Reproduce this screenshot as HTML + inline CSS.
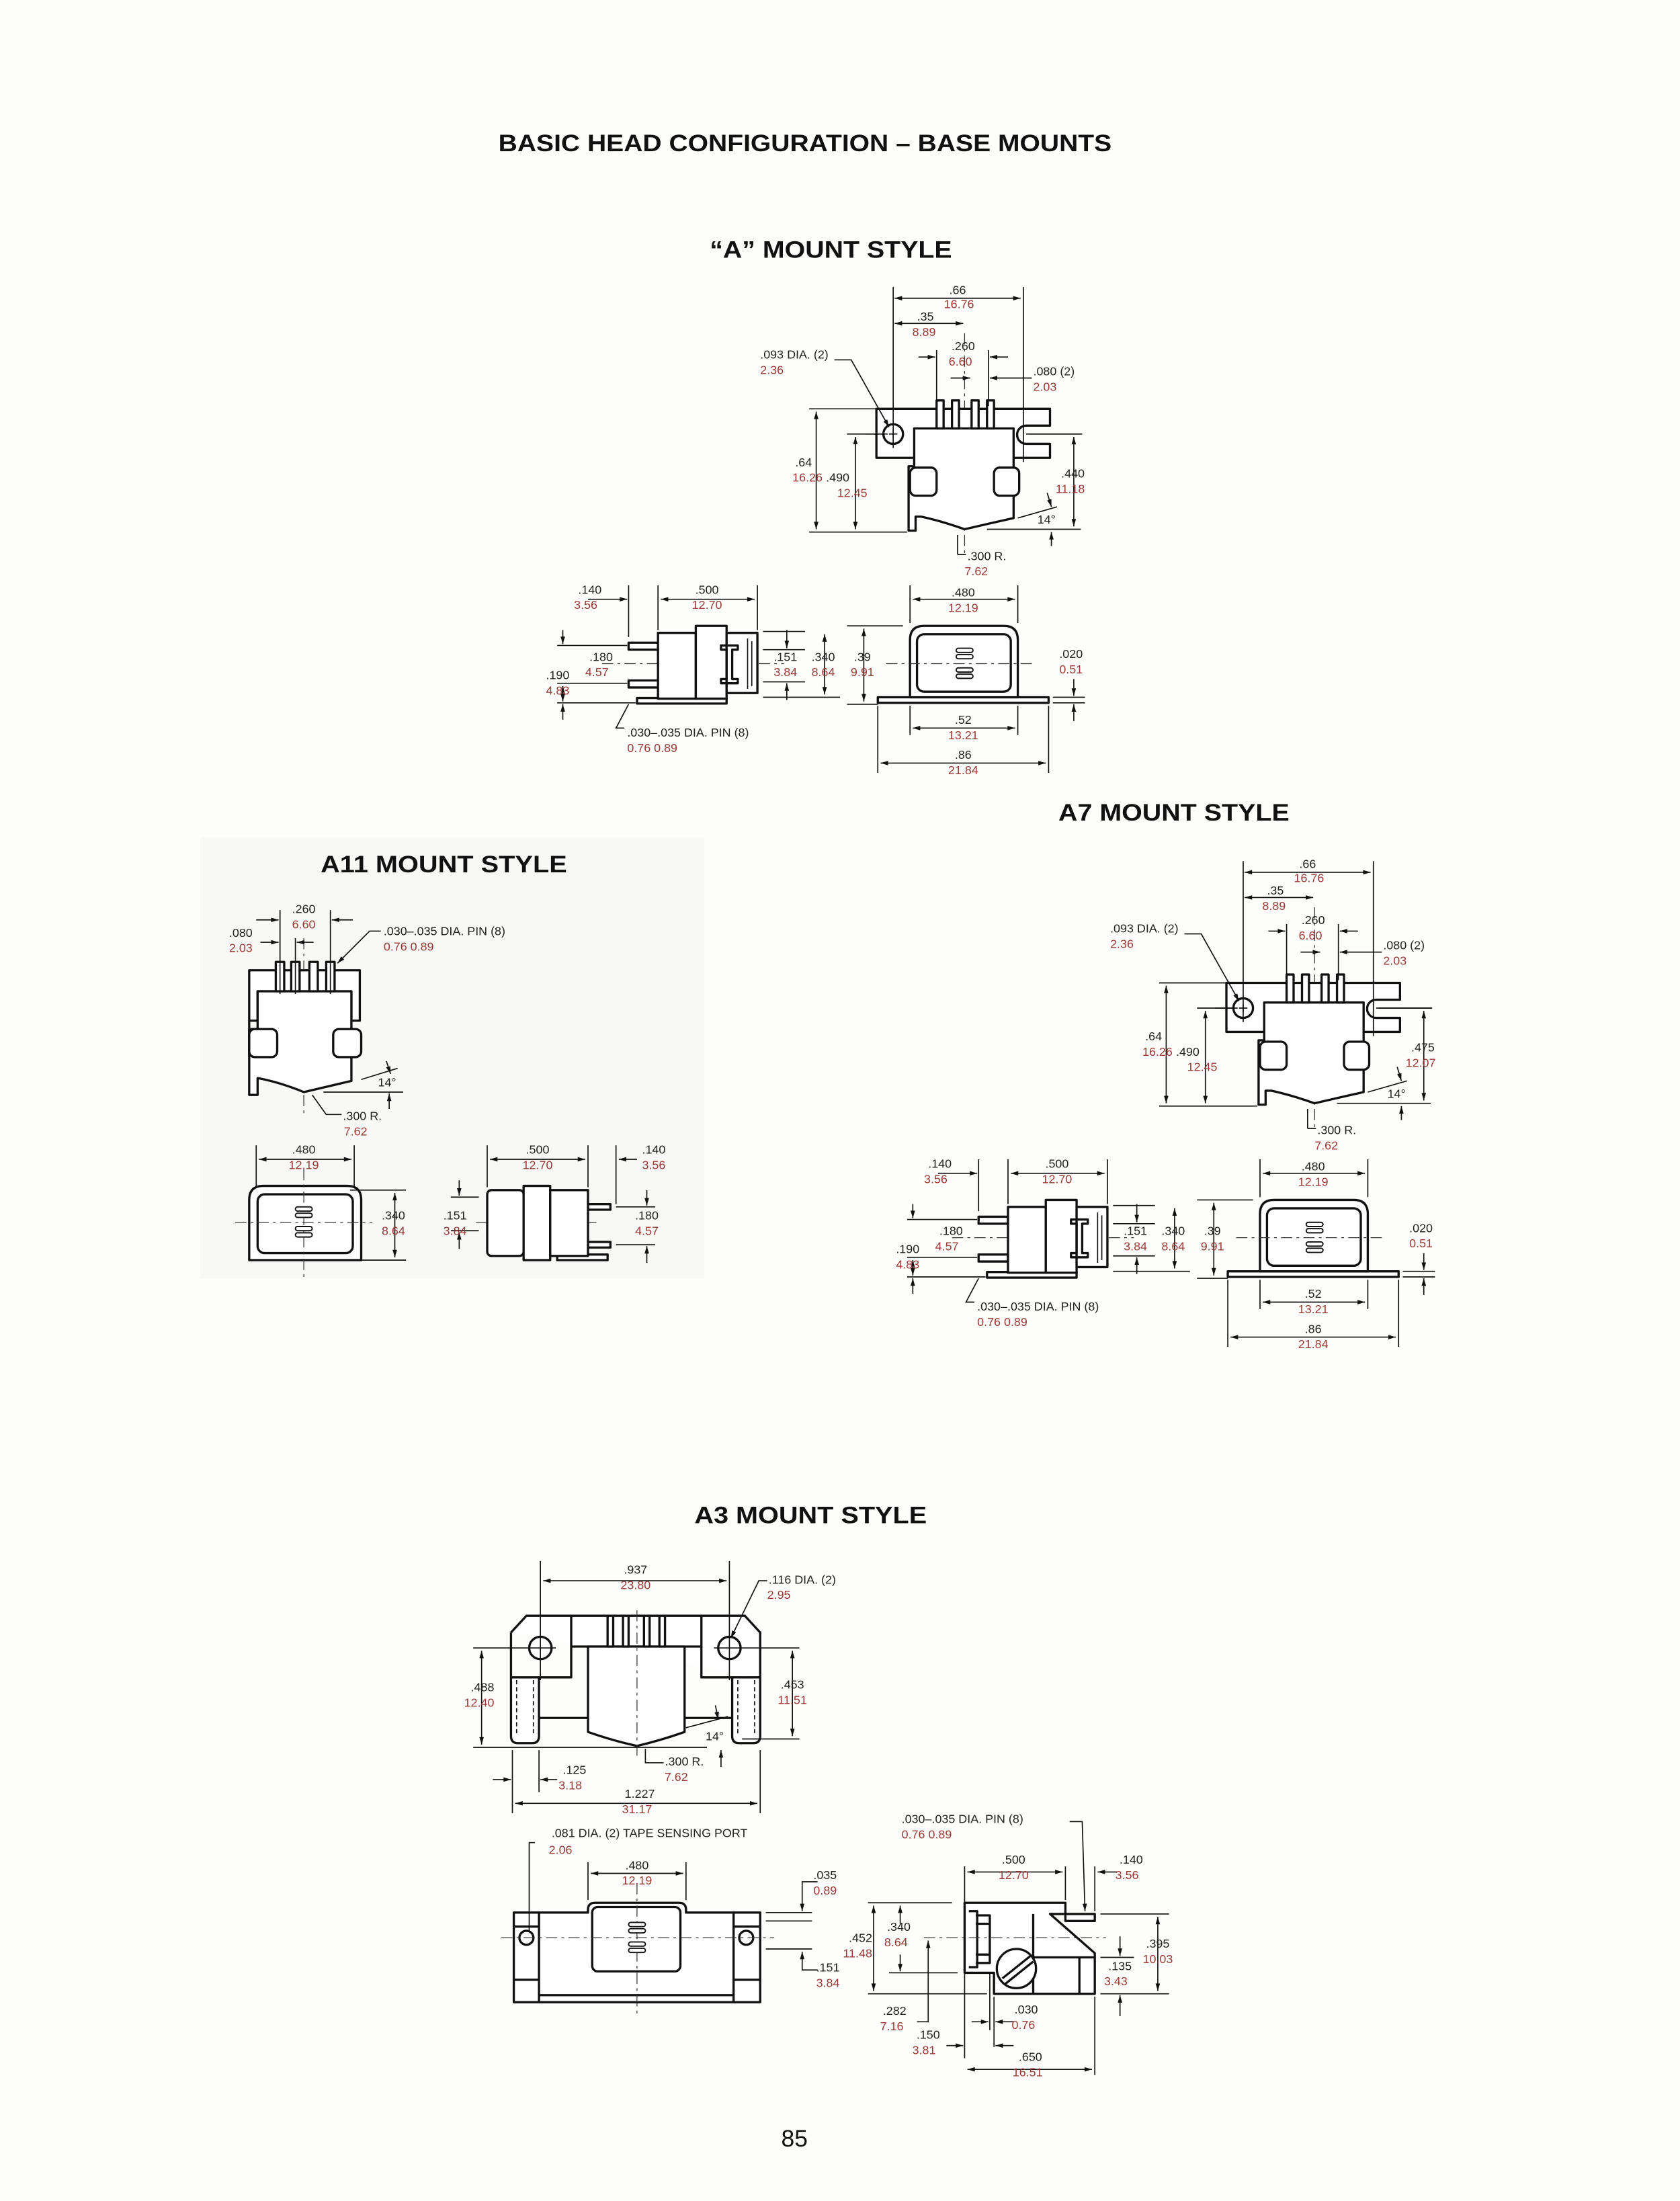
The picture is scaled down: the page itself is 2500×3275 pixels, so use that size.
<!DOCTYPE html>
<html><head><meta charset="utf-8"><style>
html,body{margin:0;padding:0;background:#fdfdfb;}
svg{display:block;}
text{font-family:"Liberation Sans",sans-serif;}
.d{font-size:8.6px;fill:#222;}
.r{font-size:8.6px;fill:#9b3a34;}
.t{font-weight:600;fill:#111;}
.o{fill:none;stroke:#111;stroke-width:1.6;stroke-linejoin:round;}
.f{fill:#fff;stroke:#111;stroke-width:1.6;stroke-linejoin:round;}
.l{stroke:#111;stroke-width:0.8;fill:none;}
.c{stroke:#333;stroke-width:0.6;stroke-dasharray:8 3 2 3;fill:none;}
</style></head><body>
<svg width="2500" height="3275" viewBox="0 0 1200 1572" xmlns="http://www.w3.org/2000/svg">
<defs>
<marker id="e" viewBox="0 0 10 6" refX="10" refY="3" markerWidth="7" markerHeight="4" orient="auto"><path d="M0,0L10,3L0,6z" fill="#111"/></marker>
<marker id="s" viewBox="0 0 10 6" refX="0" refY="3" markerWidth="7" markerHeight="4" orient="auto"><path d="M10,0L0,3L10,6z" fill="#111"/></marker>
</defs>
<rect x="0" y="0" width="1200" height="1572" fill="#fdfdfb"/>
<rect x="143" y="598" width="360" height="315" fill="#f8f8f6"/>

<text class="t" x="356" y="108" font-size="17" textLength="438" lengthAdjust="spacingAndGlyphs">BASIC HEAD CONFIGURATION – BASE MOUNTS</text>
<text class="t" x="507" y="184" font-size="17" textLength="173" lengthAdjust="spacingAndGlyphs">“A” MOUNT STYLE</text>
<text class="t" x="756" y="586" font-size="17" textLength="165" lengthAdjust="spacingAndGlyphs">A7 MOUNT STYLE</text>
<text class="t" x="229" y="623" font-size="17" textLength="176" lengthAdjust="spacingAndGlyphs">A11 MOUNT STYLE</text>
<text class="t" x="496" y="1088" font-size="17" textLength="166" lengthAdjust="spacingAndGlyphs">A3 MOUNT STYLE</text>
<text x="558" y="1533" font-size="17" fill="#111">85</text>

<g id="amount">
<line class="c" x1="689" y1="238" x2="689" y2="398"/>
<path class="f" d="M653,327 H626 V292 H750 V304 H733 A6.5,6.5 0 0 0 733,317 H750 V327 H724"/>
<path class="f" d="M653,306 H724 V370 Q706,374 689,378 Q672,372 658,369 H654 V379 H649 V333 H653 Z"/>
<rect class="f" x="650" y="334" width="19" height="20" rx="4"/>
<rect class="f" x="710" y="334" width="18" height="20" rx="4"/>
<rect class="f" x="669" y="286" width="5" height="20"/>
<rect class="f" x="680" y="286" width="5" height="20"/>
<rect class="f" x="694" y="286" width="5" height="20"/>
<rect class="f" x="705" y="286" width="5" height="20"/>
<circle class="f" cx="638" cy="310" r="7"/>
<path class="l" d="M635,310h6M638,307v6M618,310h16M733,310h40"/>
<path class="l" d="M638,205V320M731,205V330M669,250V290M706,250V290"/>
<line class="l" x1="639" y1="213" x2="729" y2="213" marker-start="url(#s)" marker-end="url(#e)"/>
<line class="l" x1="639" y1="231" x2="688" y2="231" marker-start="url(#s)" marker-end="url(#e)"/>
<line class="l" x1="656" y1="255" x2="668" y2="255" marker-end="url(#e)"/>
<line class="l" x1="720" y1="255" x2="707" y2="255" marker-end="url(#e)"/>
<line class="l" x1="679" y1="270" x2="693" y2="270" marker-end="url(#e)"/>
<line class="l" x1="737" y1="270" x2="707" y2="270" marker-end="url(#e)"/>
<path class="l" d="M596,257H608L635,305" marker-end="url(#e)"/>
<path class="l" d="M578,292H626M578,380H648M605,310H631"/>
<line class="l" x1="583" y1="294" x2="583" y2="378" marker-start="url(#s)" marker-end="url(#e)"/>
<line class="l" x1="611" y1="312" x2="611" y2="378" marker-start="url(#s)" marker-end="url(#e)"/>
<path class="l" d="M735,310H772M705,378H772"/>
<line class="l" x1="767" y1="312" x2="767" y2="376" marker-start="url(#s)" marker-end="url(#e)"/>
<path class="l" d="M727,370L755,362"/>
<line class="l" x1="748" y1="352" x2="751" y2="362" marker-end="url(#e)"/>
<line class="l" x1="751" y1="390" x2="751" y2="380" marker-end="url(#e)"/>
<path class="l" d="M684,396V382M684,396H690"/>
<text class="d" x="684" y="210" text-anchor="middle">.66</text><text class="r" x="685" y="220" text-anchor="middle">16.76</text>
<text class="d" x="661" y="229" text-anchor="middle">.35</text><text class="r" x="660" y="240" text-anchor="middle">8.89</text>
<text class="d" x="688" y="250" text-anchor="middle">.260</text><text class="r" x="686" y="261" text-anchor="middle">6.60</text>
<text class="d" x="738" y="268">.080 (2)</text><text class="r" x="738" y="279">2.03</text>
<text class="d" x="543" y="256">.093 DIA. (2)</text><text class="r" x="543" y="267">2.36</text>
<text class="d" x="568" y="333">.64</text><text class="r" x="566" y="344">16.26</text>
<text class="d" x="590" y="344">.490</text><text class="r" x="598" y="355">12.45</text>
<text class="d" x="741" y="374">14°</text>
<text class="d" x="691" y="400">.300 R.</text><text class="r" x="689" y="411">7.62</text>
<line class="c" x1="430" y1="474" x2="560" y2="474"/>
<rect class="f" x="449" y="459" width="21" height="5"/>
<rect class="f" x="449" y="486" width="21" height="5"/>
<rect class="f" x="455" y="498.5" width="64" height="4"/>
<rect class="f" x="470" y="452" width="27" height="47"/>
<rect class="f" x="497" y="447" width="22" height="52"/>
<rect class="f" x="519" y="452" width="22" height="43"/>
<path class="o" d="M515,461h12v3h-4v21h4v3h-12v-3h4v-21h-4z" stroke-width="1"/>
<path class="l" d="M534,456v36M537,458v32"/>
<path class="l" d="M449,418V455M470,418V450M541,418V450"/>
<line class="l" x1="420" y1="428" x2="448" y2="428" marker-end="url(#e)"/>
<line class="l" x1="472" y1="428" x2="539" y2="428" marker-start="url(#s)" marker-end="url(#e)"/>
<path class="l" d="M398,461H448M398,488H448M398,502H454"/>
<line class="l" x1="402" y1="450" x2="402" y2="460" marker-end="url(#e)"/>
<line class="l" x1="402" y1="490" x2="402" y2="501" marker-start="url(#s)" marker-end="url(#e)"/>
<line class="l" x1="402" y1="514" x2="402" y2="503" marker-end="url(#e)"/>
<path class="l" d="M545,451H575M545,464H575M545,487H575M545,498H600M605,447H645M605,503H627"/>
<line class="l" x1="562" y1="450" x2="562" y2="463" marker-end="url(#e)"/>
<line class="l" x1="562" y1="500" x2="562" y2="488" marker-end="url(#e)"/>
<line class="l" x1="589" y1="453" x2="589" y2="496" marker-start="url(#s)" marker-end="url(#e)"/>
<line class="l" x1="617" y1="449" x2="617" y2="501" marker-start="url(#s)" marker-end="url(#e)"/>
<path class="l" d="M446,520H440L449,503"/>
<text class="d" x="413" y="424">.140</text><text class="r" x="410" y="435">3.56</text>
<text class="d" x="505" y="424" text-anchor="middle">.500</text><text class="r" x="505" y="435" text-anchor="middle">12.70</text>
<text class="d" x="421" y="472">.180</text><text class="r" x="418" y="483">4.57</text>
<text class="d" x="390" y="485">.190</text><text class="r" x="390" y="496">4.83</text>
<text class="d" x="561" y="472" text-anchor="middle">.151</text><text class="r" x="561" y="483" text-anchor="middle">3.84</text>
<text class="d" x="588" y="472" text-anchor="middle">.340</text><text class="r" x="588" y="483" text-anchor="middle">8.64</text>
<text class="d" x="616" y="472" text-anchor="middle">.39</text><text class="r" x="616" y="483" text-anchor="middle">9.91</text>
<text class="d" x="448" y="526">.030–.035 DIA. PIN (8)</text><text class="r" x="448" y="537">0.76  0.89</text>
<rect class="f" x="627" y="498" width="122" height="4"/>
<path class="f" d="M650,498 V457 Q650,447 660,447 H717 Q727,447 727,457 V498 Z"/>
<rect class="o" x="655" y="453" width="67" height="41" rx="5" stroke-width="1.1"/>
<line class="c" x1="633" y1="474" x2="737" y2="474"/>
<g fill="#fff" stroke="#111" stroke-width="0.9"><rect x="683" y="463" width="12" height="3" rx="1.5"/><rect x="683" y="467.5" width="12" height="3" rx="1.5"/><rect x="683" y="477" width="12" height="3" rx="1.5"/><rect x="683" y="481.5" width="12" height="3" rx="1.5"/></g>
<path class="l" d="M650,418V445M727,418V445M650,504V525M727,504V525M627,504V552M749,504V552M752,498H775M752,502H775"/>
<line class="l" x1="652" y1="428" x2="725" y2="428" marker-start="url(#s)" marker-end="url(#e)"/>
<line class="l" x1="652" y1="520" x2="725" y2="520" marker-start="url(#s)" marker-end="url(#e)"/>
<line class="l" x1="629" y1="545" x2="747" y2="545" marker-start="url(#s)" marker-end="url(#e)"/>
<line class="l" x1="767" y1="485" x2="767" y2="497" marker-end="url(#e)"/>
<line class="l" x1="767" y1="515" x2="767" y2="503" marker-end="url(#e)"/>
<text class="d" x="688" y="426" text-anchor="middle">.480</text><text class="r" x="688" y="437" text-anchor="middle">12.19</text>
<text class="d" x="765" y="470" text-anchor="middle">.020</text><text class="r" x="765" y="481" text-anchor="middle">0.51</text>
<text class="d" x="688" y="517" text-anchor="middle">.52</text><text class="r" x="688" y="528" text-anchor="middle">13.21</text>
<text class="d" x="688" y="542" text-anchor="middle">.86</text><text class="r" x="688" y="553" text-anchor="middle">21.84</text>
</g>
<text class="d" x="758" y="341">.440</text><text class="r" x="754" y="352">11.18</text>
<use href="#amount" transform="translate(250,410)"/>
<text class="d" x="1008" y="751">.475</text><text class="r" x="1004" y="762">12.07</text>

<line class="c" x1="217" y1="670" x2="217" y2="798"/>
<path class="f" d="M178,755 V693 H257 V729 H251 V708 H184 V729 H178"/>
<path class="f" d="M184,708 H251 V772 Q234,776 217,780 Q200,773 184,770 V782 H178 V735 H184 Z"/>
<rect class="f" x="178" y="735" width="20" height="20" rx="4"/>
<rect class="f" x="238" y="735" width="20" height="20" rx="4"/>
<rect class="f" x="197" y="687" width="6" height="21"/>
<rect class="f" x="208" y="687" width="6" height="21"/>
<rect class="f" x="221" y="687" width="6" height="21"/>
<rect class="f" x="233" y="687" width="6" height="21"/>
<path class="l" d="M200,650V710M211,670V710M236,650V710"/>
<line class="l" x1="183" y1="657" x2="199" y2="657" marker-end="url(#e)"/>
<line class="l" x1="252" y1="657" x2="237" y2="657" marker-end="url(#e)"/>
<line class="l" x1="186" y1="673" x2="199" y2="673" marker-end="url(#e)"/>
<line class="l" x1="224" y1="673" x2="212" y2="673" marker-end="url(#e)"/>
<path class="l" d="M272,665H264L241,688" marker-end="url(#e)"/>
<path class="l" d="M258,771L284,763M231,780H288"/>
<line class="l" x1="276" y1="758" x2="279" y2="767" marker-end="url(#e)"/>
<line class="l" x1="278" y1="792" x2="278" y2="781" marker-end="url(#e)"/>
<path class="l" d="M223,782L233,796H244"/>
<text class="d" x="217" y="652" text-anchor="middle">.260</text><text class="r" x="217" y="663" text-anchor="middle">6.60</text>
<text class="d" x="172" y="669" text-anchor="middle">.080</text><text class="r" x="172" y="680" text-anchor="middle">2.03</text>
<text class="d" x="274" y="668">.030–.035 DIA. PIN (8)</text><text class="r" x="274" y="679">0.76  0.89</text>
<text class="d" x="270" y="776">14°</text>
<text class="d" x="245" y="800">.300 R.</text><text class="r" x="254" y="811" text-anchor="middle">7.62</text>
<path class="f" d="M178,900 V857 Q178,847 188,847 H248 Q258,847 258,857 V900 Z"/>
<rect class="o" x="184" y="853" width="68" height="42" rx="5" stroke-width="1.1"/>
<line class="c" x1="168" y1="873" x2="266" y2="873"/>
<line class="c" x1="217" y1="835" x2="217" y2="912"/>
<g fill="#fff" stroke="#111" stroke-width="0.9"><rect x="211" y="862" width="12" height="3" rx="1.5"/><rect x="211" y="866.5" width="12" height="3" rx="1.5"/><rect x="211" y="876" width="12" height="3" rx="1.5"/><rect x="211" y="880.5" width="12" height="3" rx="1.5"/></g>
<path class="l" d="M183,818V848M253,818V848M250,850H290M250,900H290"/>
<line class="l" x1="185" y1="828" x2="251" y2="828" marker-start="url(#s)" marker-end="url(#e)"/>
<line class="l" x1="282" y1="852" x2="282" y2="898" marker-start="url(#s)" marker-end="url(#e)"/>
<text class="d" x="217" y="824" text-anchor="middle">.480</text><text class="r" x="217" y="835" text-anchor="middle">12.19</text>
<text class="d" x="281" y="871" text-anchor="middle">.340</text><text class="r" x="281" y="882" text-anchor="middle">8.64</text>
<line class="c" x1="340" y1="873" x2="426" y2="873"/>
<rect class="f" x="398" y="896" width="36" height="4"/>
<rect class="f" x="420" y="860" width="16" height="4"/>
<rect class="f" x="420" y="887" width="16" height="4"/>
<rect class="f" x="348" y="850" width="26" height="47" rx="3"/>
<rect class="f" x="374" y="847" width="19" height="53"/>
<rect class="f" x="393" y="850" width="27" height="47"/>
<path class="l" d="M348,818V848M420,818V848M440,818V860M322,855H342M322,879H342M440,862H468M440,889H468"/>
<line class="l" x1="350" y1="828" x2="418" y2="828" marker-start="url(#s)" marker-end="url(#e)"/>
<line class="l" x1="455" y1="828" x2="442" y2="828" marker-end="url(#e)"/>
<line class="l" x1="328" y1="843" x2="328" y2="854" marker-end="url(#e)"/>
<line class="l" x1="328" y1="892" x2="328" y2="880" marker-end="url(#e)"/>
<line class="l" x1="462" y1="850" x2="462" y2="861" marker-end="url(#e)"/>
<line class="l" x1="462" y1="902" x2="462" y2="890" marker-end="url(#e)"/>
<text class="d" x="384" y="824" text-anchor="middle">.500</text><text class="r" x="384" y="835" text-anchor="middle">12.70</text>
<text class="d" x="467" y="824" text-anchor="middle">.140</text><text class="r" x="467" y="835" text-anchor="middle">3.56</text>
<text class="d" x="325" y="871" text-anchor="middle">.151</text><text class="r" x="325" y="882" text-anchor="middle">3.84</text>
<text class="d" x="462" y="871" text-anchor="middle">.180</text><text class="r" x="462" y="882" text-anchor="middle">4.57</text>

<path class="f" d="M365,1166 L376,1154 H532 L543,1166 V1198 H523 V1240 Q523,1245 528,1245 H538 Q543,1245 543,1240 V1198 M365,1198 V1240 Q365,1245 370,1245 H380 Q385,1245 385,1240 V1198 H365 V1166"/>
<path class="o" d="M385,1198 H408 V1176 H420 M489,1176 H501 V1198 H523 M385,1227 H420 M489,1227 H523 M408,1154 V1176 M501,1154 V1176 M420,1176 H489"/>
<path class="f" d="M420,1176 H489 V1237 Q472,1243 455,1247 Q437,1243 420,1237 Z"/>
<path class="l" d="M369,1200v40M381,1200v40M527,1200v40M539,1200v40" stroke-dasharray="3 2"/>
<rect class="f" x="434" y="1154" width="4" height="22" stroke-width="1"/>
<rect class="f" x="445" y="1154" width="4" height="22" stroke-width="1"/>
<rect class="f" x="460" y="1154" width="4" height="22" stroke-width="1"/>
<rect class="f" x="471" y="1154" width="4" height="22" stroke-width="1"/>
<circle class="f" cx="386" cy="1177" r="8"/><circle class="f" cx="521" cy="1177" r="8"/>
<path class="l" d="M383,1177h6M386,1174v6M518,1177h6M521,1174v6M338,1177H397M510,1177H571M386,1115V1200M521,1115V1200M338,1248H505M530,1242H571M366,1250V1295M385,1250V1280M543,1250V1295"/>
<line class="c" x1="455" y1="1150" x2="455" y2="1255"/>
<line class="l" x1="388" y1="1129" x2="519" y2="1129" marker-start="url(#s)" marker-end="url(#e)"/>
<line class="l" x1="344" y1="1179" x2="344" y2="1246" marker-start="url(#s)" marker-end="url(#e)"/>
<line class="l" x1="566" y1="1179" x2="566" y2="1240" marker-start="url(#s)" marker-end="url(#e)"/>
<line class="l" x1="352" y1="1271" x2="365" y2="1271" marker-end="url(#e)"/>
<line class="l" x1="398" y1="1271" x2="386" y2="1271" marker-end="url(#e)"/>
<line class="l" x1="368" y1="1288" x2="541" y2="1288" marker-start="url(#s)" marker-end="url(#e)"/>
<path class="l" d="M548,1129H542L522,1170" marker-end="url(#e)"/>
<path class="l" d="M490,1234L520,1226"/>
<line class="l" x1="511" y1="1218" x2="513" y2="1228" marker-end="url(#e)"/>
<line class="l" x1="515" y1="1262" x2="515" y2="1250" marker-end="url(#e)"/>
<path class="l" d="M474,1259H461V1249"/>
<text class="d" x="454" y="1124" text-anchor="middle">.937</text><text class="r" x="454" y="1135" text-anchor="middle">23.80</text>
<text class="d" x="549" y="1131">.116 DIA. (2)</text><text class="r" x="548" y="1142">2.95</text>
<text class="d" x="353" y="1208" text-anchor="end">.488</text><text class="r" x="353" y="1219" text-anchor="end">12.40</text>
<text class="d" x="566" y="1206" text-anchor="middle">.453</text><text class="r" x="566" y="1217" text-anchor="middle">11.51</text>
<text class="d" x="504" y="1243">14°</text>
<text class="d" x="475" y="1261">.300 R.</text><text class="r" x="483" y="1272" text-anchor="middle">7.62</text>
<text class="d" x="402" y="1267">.125</text><text class="r" x="399" y="1278">3.18</text>
<text class="d" x="457" y="1284" text-anchor="middle">1.227</text><text class="r" x="455" y="1295" text-anchor="middle">31.17</text>

<path class="f" d="M367,1366 H420 V1364 Q420,1359 425,1359 H485 Q490,1359 490,1364 V1366 H543 V1430 H367 Z"/>
<path class="o" d="M385,1366V1430M524,1366V1430M367,1376H385M367,1414H385M524,1376H543M524,1414H543M385,1425H524" stroke-width="1"/>
<rect class="o" x="423" y="1362" width="63" height="46" rx="4" stroke-width="1.1"/>
<circle class="f" cx="376" cy="1384" r="5"/><circle class="f" cx="533" cy="1384" r="5"/>
<line class="c" x1="358" y1="1384" x2="553" y2="1384"/>
<line class="c" x1="455" y1="1345" x2="455" y2="1440"/>
<g fill="#fff" stroke="#111" stroke-width="0.9"><rect x="449" y="1373" width="12" height="3" rx="1.5"/><rect x="449" y="1377.5" width="12" height="3" rx="1.5"/><rect x="449" y="1387" width="12" height="3" rx="1.5"/><rect x="449" y="1391.5" width="12" height="3" rx="1.5"/></g>
<path class="l" d="M378,1380V1316H382M420,1330V1357M490,1330V1357M547,1366H580M547,1372H580M547,1392H580"/>
<line class="l" x1="422" y1="1338" x2="488" y2="1338" marker-start="url(#s)" marker-end="url(#e)"/>
<path class="l" d="M584,1344H573V1365" marker-end="url(#e)"/>
<path class="l" d="M584,1407H573V1394" marker-end="url(#e)"/>
<text class="d" x="394" y="1312">.081 DIA. (2) TAPE SENSING PORT</text><text class="r" x="392" y="1324">2.06</text>
<text class="d" x="455" y="1335" text-anchor="middle">.480</text><text class="r" x="455" y="1346" text-anchor="middle">12.19</text>
<text class="d" x="581" y="1342">.035</text><text class="r" x="581" y="1353">0.89</text>
<text class="d" x="583" y="1408">.151</text><text class="r" x="583" y="1419">3.84</text>

<path class="f" d="M689,1359 H761 V1367 H750 L782,1395 V1424 H710 V1409 H689 Z"/>
<rect class="f" x="761" y="1367" width="21" height="5" stroke-width="1"/>
<path class="o" d="M738,1367V1424M771,1398V1424M738,1398H782M692,1365h6v40h-6M697,1368h10v6h-10M697,1396h10v6h-10M707,1374V1396" stroke-width="1"/>
<circle class="f" cx="726" cy="1406" r="14"/>
<path class="o" d="M716,1413L736,1397M718,1417L738,1401" stroke-width="1.2"/>
<line class="c" x1="660" y1="1384" x2="790" y2="1384"/>
<path class="l" d="M620,1359H680M635,1409H684M620,1424H705M786,1367H835M786,1398H810M786,1424H835M689,1333V1470M761,1333V1357M782,1333V1365M782,1426V1482M707,1409V1450M710,1426V1462"/>
<line class="l" x1="691" y1="1337" x2="759" y2="1337" marker-start="url(#s)" marker-end="url(#e)"/>
<line class="l" x1="798" y1="1337" x2="784" y2="1337" marker-end="url(#e)"/>
<line class="l" x1="643" y1="1374" x2="643" y2="1361" marker-end="url(#e)"/>
<line class="l" x1="643" y1="1396" x2="643" y2="1408" marker-end="url(#e)"/>
<line class="l" x1="624" y1="1361" x2="624" y2="1422" marker-start="url(#s)" marker-end="url(#e)"/>
<line class="l" x1="827" y1="1369" x2="827" y2="1422" marker-start="url(#s)" marker-end="url(#e)"/>
<line class="l" x1="800" y1="1383" x2="800" y2="1397" marker-end="url(#e)"/>
<line class="l" x1="800" y1="1440" x2="800" y2="1425" marker-end="url(#e)"/>
<path class="l" d="M663,1386V1444H655" marker-start="url(#s)"/>
<line class="l" x1="694" y1="1444" x2="706" y2="1444" marker-end="url(#e)"/>
<line class="l" x1="724" y1="1444" x2="711" y2="1444" marker-end="url(#e)"/>
<line class="l" x1="676" y1="1461" x2="688" y2="1461" marker-end="url(#e)"/>
<line class="l" x1="724" y1="1461" x2="711" y2="1461" marker-end="url(#e)"/>
<line class="l" x1="691" y1="1478" x2="780" y2="1478" marker-start="url(#s)" marker-end="url(#e)"/>
<path class="l" d="M764,1301H773L775,1365" marker-end="url(#e)"/>
<text class="d" x="644" y="1302">.030–.035 DIA. PIN (8)</text><text class="r" x="644" y="1313">0.76  0.89</text>
<text class="d" x="724" y="1331" text-anchor="middle">.500</text><text class="r" x="724" y="1342" text-anchor="middle">12.70</text>
<text class="d" x="808" y="1331" text-anchor="middle">.140</text><text class="r" x="805" y="1342" text-anchor="middle">3.56</text>
<text class="d" x="642" y="1379" text-anchor="middle">.340</text><text class="r" x="640" y="1390" text-anchor="middle">8.64</text>
<text class="d" x="623" y="1387" text-anchor="end">.452</text><text class="r" x="623" y="1398" text-anchor="end">11.48</text>
<text class="d" x="827" y="1391" text-anchor="middle">.395</text><text class="r" x="827" y="1402" text-anchor="middle">10.03</text>
<text class="d" x="800" y="1407" text-anchor="middle">.135</text><text class="r" x="797" y="1418" text-anchor="middle">3.43</text>
<text class="d" x="639" y="1439" text-anchor="middle">.282</text><text class="r" x="637" y="1450" text-anchor="middle">7.16</text>
<text class="d" x="733" y="1438" text-anchor="middle">.030</text><text class="r" x="731" y="1449" text-anchor="middle">0.76</text>
<text class="d" x="663" y="1456" text-anchor="middle">.150</text><text class="r" x="660" y="1467" text-anchor="middle">3.81</text>
<text class="d" x="736" y="1472" text-anchor="middle">.650</text><text class="r" x="734" y="1483" text-anchor="middle">16.51</text>
</svg>
</body></html>
